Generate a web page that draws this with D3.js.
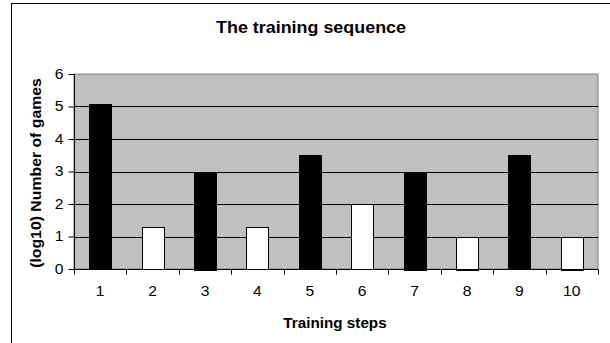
<!DOCTYPE html>
<html>
<head>
<meta charset="utf-8">
<script src="https://cdn.jsdelivr.net/npm/d3@7"></script>
<style>
  body { margin: 0; background: #fff; }
  text { font-family: Arial, "Liberation Sans", sans-serif; }
</style>
</head>
<body>
<svg id="chart" width="610" height="343"></svg>
<script>
const steps = ['1', '2', '3', '4', '5', '6', '7', '8', '9', '10']
const games = [5.08, 1.3, 3, 1.3, 3.5, 2, 3, 1, 3.5, 1]
const yTicks = [0, 1, 2, 3, 4, 5, 6]

const svg = d3.select('#chart')
let margin = {top: 74, right: 12, bottom: 74, left: 74},
    width = 610 - margin.left - margin.right,
    height = 343 - margin.top - margin.bottom

// the original text is a bit wider than Arial, so stretch it along the baseline
const stretch = 1.12

// outer chart frame, runs off the bottom/right of the picture
svg.append('rect')
  .attr('x', 11.5).attr('y', 3.5)
  .attr('width', 620).attr('height', 360)
  .attr('fill', '#fff')
  .attr('stroke', '#000')

svg.append('text')
  .attr('transform', `translate(311, 32.5) scale(${stretch}, 1)`)
  .attr('text-anchor', 'middle')
  .attr('font-size', 16).attr('font-weight', 'bold')
  .text('The training sequence')

const group = svg.append('g')
  .attr('transform', `translate(${margin.left}, ${margin.top})`)

const xScale = d3.scaleBand()
  .domain(steps)
  .range([0, width])

const yScale = d3.scaleLinear()
  .domain([0, 6])
  .range([height, 0])

group.append('rect')
  .attr('width', width).attr('height', height)
  .attr('fill', '#c0c0c0')
  .attr('stroke', '#808080')

// gridlines
group.append('g')
  .selectAll('line')
  .data(yTicks.slice(1, -1))
  .join('line')
  .attr('x1', 0).attr('x2', width)
  .attr('y1', d => Math.round(yScale(d)) + 0.5)
  .attr('y2', d => Math.round(yScale(d)) + 0.5)
  .attr('stroke', '#000')

const bw = xScale.bandwidth() * 0.42
group.append('g')
  .selectAll('rect')
  .data(games)
  .join('rect')
  .attr('x', (d, i) => Math.round(xScale(steps[i]) + (xScale.bandwidth() - bw) / 2) + 0.5)
  .attr('y', d => Math.round(yScale(d)) + 0.5)
  .attr('width', Math.round(bw))
  .attr('height', d => Math.round(height - yScale(d)))
  .attr('fill', (d, i) => i % 2 === 0 ? '#000' : '#fff')
  .attr('stroke', '#000')

// y axis
const yAxis = group.append('g')
  .attr('transform', 'translate(0.5, 0)')
  .call(d3.axisLeft(yScale).tickValues(yTicks).tickSize(6).tickPadding(5).tickFormat(d3.format('d')))
  .attr('font-size', 14)
  .attr('font-family', 'Arial, "Liberation Sans", sans-serif')
yAxis.select('.domain').attr('d', `M0,0V${height}`)
yAxis.selectAll('text')
  .style('font-size', '14px')
  .attr('transform', `scale(${stretch}, 1)`)
  .attr('x', -11 / stretch)

// x axis, ticks sit between categories
const xAxis = group.append('g')
  .attr('transform', `translate(0, ${height + 0.5})`)
xAxis.append('line')
  .attr('x1', 0).attr('x2', width)
  .attr('stroke', '#000')
xAxis.selectAll('.tick')
  .data(d3.range(steps.length + 1))
  .join('line')
  .attr('class', 'tick')
  .attr('x1', i => Math.round(i * xScale.step()) + 0.5)
  .attr('x2', i => Math.round(i * xScale.step()) + 0.5)
  .attr('y1', 0).attr('y2', 5)
  .attr('stroke', '#000')
xAxis.selectAll('.lbl')
  .data(steps)
  .join('text')
  .attr('class', 'lbl')
  .attr('transform', d => `translate(${xScale(d) + xScale.bandwidth() / 2}, 26.5) scale(${stretch}, 1)`)
  .attr('text-anchor', 'middle')
  .style('font-size', '14px')
  .text(d => d)

svg.append('text')
  .attr('transform', `translate(335, 327.5) scale(1.09, 1)`)
  .attr('text-anchor', 'middle')
  .attr('font-size', 14).attr('font-weight', 'bold')
  .text('Training steps')

svg.append('text')
  .attr('transform', `translate(41, 173) rotate(-90) scale(1.13, 1)`)
  .attr('text-anchor', 'middle')
  .attr('font-size', 14).attr('font-weight', 'bold')
  .text('(log10) Number of games')
</script>
</body>
</html>
